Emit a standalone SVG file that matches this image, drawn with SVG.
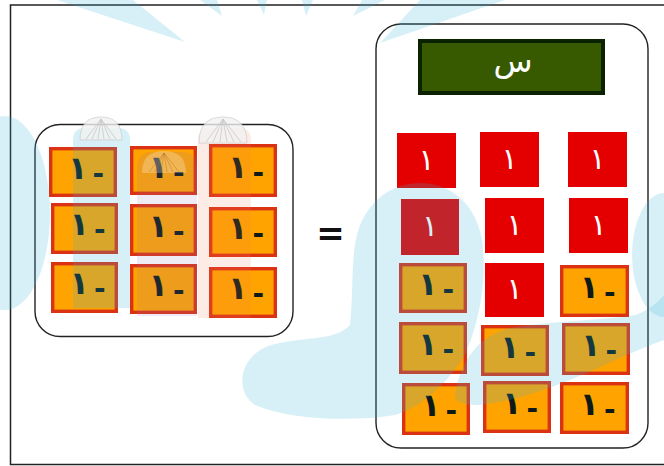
<svg xmlns="http://www.w3.org/2000/svg" width="664" height="466" viewBox="0 0 664 466">
<style>
.frame{fill:#fff;stroke:#222;stroke-width:1.5}
.box{fill:none;stroke:#222;stroke-width:1.4}
.t{fill:#FFA300;stroke:#DC3214;stroke-width:3.4}
.r{fill:#E40000}
.n{font-family:"DejaVu Sans",sans-serif;font-size:32px;font-weight:bold;fill:#0d1a18;text-anchor:middle;direction:rtl}
.m{font-size:28px}
.w{font-family:"DejaVu Sans",sans-serif;font-size:30px;fill:#fff;text-anchor:middle}
.wm{fill:#36B5D8;opacity:0.2}
.cap{fill:#f2f2f2;stroke:#c8c8c8;stroke-width:0.8;opacity:0.8}
</style>
<rect class="frame" x="10.5" y="5" width="660" height="459.5"/>

<g id="left-group">
<rect class="box" x="35" y="124.5" width="258" height="212" rx="25"/>
<g id="left-tiles">
<rect class="t" x="50.7" y="148.7" width="64.6" height="46.6"/><text class="n" x="86" y="179"><tspan class="m" baseline-shift="-4">-</tspan><tspan dx="-5">١</tspan></text>
<rect class="t" x="131.7" y="147.7" width="63.6" height="45.6"/><text class="n" x="166.5" y="178"><tspan class="m" baseline-shift="-4">-</tspan><tspan dx="-5">١</tspan></text>
<rect class="t" x="210.7" y="145.7" width="64.6" height="49.6"/><text class="n" x="246" y="178"><tspan class="m" baseline-shift="-4">-</tspan><tspan dx="-5">١</tspan></text>
<rect class="t" x="52.7" y="204.7" width="63.6" height="47.6"/><text class="n" x="87.5" y="235"><tspan class="m" baseline-shift="-4">-</tspan><tspan dx="-5">١</tspan></text>
<rect class="t" x="131.7" y="205.7" width="63.6" height="48.6"/><text class="n" x="166.5" y="237"><tspan class="m" baseline-shift="-4">-</tspan><tspan dx="-5">١</tspan></text>
<rect class="t" x="210.7" y="208.7" width="64.6" height="46.6"/><text class="n" x="246" y="239"><tspan class="m" baseline-shift="-4">-</tspan><tspan dx="-5">١</tspan></text>
<rect class="t" x="52.7" y="263.7" width="63.6" height="47.6"/><text class="n" x="87.5" y="294"><tspan class="m" baseline-shift="-4">-</tspan><tspan dx="-5">١</tspan></text>
<rect class="t" x="131.7" y="265.7" width="63.6" height="46.6"/><text class="n" x="166.5" y="296"><tspan class="m" baseline-shift="-4">-</tspan><tspan dx="-5">١</tspan></text>
<rect class="t" x="210.7" y="268.7" width="64.6" height="47.6"/><text class="n" x="246" y="299"><tspan class="m" baseline-shift="-4">-</tspan><tspan dx="-5">١</tspan></text>
</g>
<g id="bottles">
<path d="M73,140 Q73,128 85,128 L118,128 Q130,128 130,140 L130,308 L73,308 Z" fill="#36B5D8" opacity="0.2"/>
<path class="cap" d="M80,140 Q80,117 101,117 Q122,117 122,140 Z"/>
<path d="M101,119 L86,139 M101,119 L92,139 M101,119 L98,139 M101,119 L104,139 M101,119 L110,139 M101,119 L116,139" stroke="#c8c8c8" stroke-width="0.8" fill="none"/>
<path d="M137,170 Q137,152 152,152 L182,152 Q197,152 197,170 L197,316 L137,316 Z" fill="#8C78B4" opacity="0.15"/>
<path d="M142,173 Q142,151 164,151 Q186,151 186,173 Z" fill="#fff" opacity="0.25"/>
<path d="M164,153 L149,172 M164,153 L155,172 M164,153 L161,172 M164,153 L167,172 M164,153 L173,172 M164,153 L179,172" stroke="#b07020" stroke-width="0.8" fill="none" opacity="0.5"/>
<path d="M198,140 Q198,128 210,128 L239,128 Q251,128 251,140 L251,318 L198,318 Z" fill="#F08050" opacity="0.15"/>
<path class="cap" d="M199,143 Q199,117 223,117 Q247,117 247,143 Z"/>
<path d="M223,119 L206,142 M223,119 L213,142 M223,119 L220,142 M223,119 L227,142 M223,119 L234,142 M223,119 L241,142" stroke="#c8c8c8" stroke-width="0.8" fill="none"/>
</g>
</g>

<g id="equals"><text x="330.5" y="245" font-family="DejaVu Sans, sans-serif" font-size="34" font-weight="bold" text-anchor="middle" fill="#111">=</text></g>

<g id="right-group">
<rect class="box" x="376" y="24" width="272" height="424" rx="25"/>
<g id="result-x">
<rect x="420" y="41" width="183" height="52" fill="#375A00" stroke="#0B2200" stroke-width="4"/>
<text x="513" y="72" font-family="DejaVu Sans, sans-serif" font-size="32" fill="#fff" text-anchor="middle">س</text>
</g>
<g id="right-tiles">
<rect class="r" x="397" y="133" width="59" height="55"/><text class="w" x="426.5" y="170">١</text>
<rect class="r" x="480" y="132" width="59" height="55"/><text class="w" x="509.5" y="169">١</text>
<rect class="r" x="568" y="132" width="59" height="55"/><text class="w" x="597.5" y="169">١</text>
<rect class="r" x="401" y="199" width="58" height="56"/><text class="w" x="430" y="236">١</text>
<rect class="r" x="485" y="198" width="59" height="55"/><text class="w" x="514.5" y="235">١</text>
<rect class="r" x="569" y="198" width="59" height="55"/><text class="w" x="598.5" y="235">١</text>
<rect class="t" x="400.7" y="264.7" width="64.6" height="46.6"/><text class="n" x="436" y="295"><tspan class="m" baseline-shift="-4">-</tspan><tspan dx="-5">١</tspan></text>
<rect class="r" x="485" y="263" width="59" height="54"/><text class="w" x="514.5" y="299">١</text>
<rect class="t" x="561.7" y="266.7" width="65.6" height="48.6"/><text class="n" x="597.5" y="298"><tspan class="m" baseline-shift="-4">-</tspan><tspan dx="-5">١</tspan></text>
<rect class="t" x="400.7" y="323.7" width="64.6" height="48.6"/><text class="n" x="436" y="355"><tspan class="m" baseline-shift="-4">-</tspan><tspan dx="-5">١</tspan></text>
<rect class="t" x="482.7" y="326.7" width="64.6" height="47.6"/><text class="n" x="518" y="358"><tspan class="m" baseline-shift="-4">-</tspan><tspan dx="-5">١</tspan></text>
<rect class="t" x="563.7" y="324.7" width="64.6" height="48.6"/><text class="n" x="599" y="356"><tspan class="m" baseline-shift="-4">-</tspan><tspan dx="-5">١</tspan></text>
<rect class="t" x="403.7" y="384.7" width="64.6" height="48.6"/><text class="n" x="439" y="416"><tspan class="m" baseline-shift="-4">-</tspan><tspan dx="-5">١</tspan></text>
<rect class="t" x="484.7" y="382.7" width="64.6" height="48.6"/><text class="n" x="520" y="414"><tspan class="m" baseline-shift="-4">-</tspan><tspan dx="-5">١</tspan></text>
<rect class="t" x="561.7" y="383.7" width="65.6" height="48.6"/><text class="n" x="597.5" y="415"><tspan class="m" baseline-shift="-4">-</tspan><tspan dx="-5">١</tspan></text>
</g>
</g>

<g id="watermark">
<polygon class="wm" points="57,0 133,0 185,42"/>
<polygon class="wm" points="200,0 217,0 222,16"/>
<polygon class="wm" points="257,0 267,0 264,15"/>
<polygon class="wm" points="302,0 313,0 306,16"/>
<polygon class="wm" points="362,0 385,0 353,16"/>
<polygon class="wm" points="420,0 505,0 380,43"/>
<ellipse class="wm" cx="5" cy="213" rx="45" ry="97"/>
<ellipse class="wm" cx="664" cy="255" rx="32" ry="62"/>
<path class="wm" d="M420,183 C452,183 476,205 482,240 C488,280 478,330 462,360 C445,385 420,408 395,415 C350,422 290,420 255,405 C235,392 238,358 268,346 C300,336 335,342 350,325 C354,290 350,250 360,225 C372,197 395,183 420,183 Z"/>
<path class="wm" d="M455,395 C460,360 480,335 510,328 C560,320 610,320 635,315 C650,310 660,300 664,295 L664,340 C630,352 600,368 570,380 C540,392 510,402 480,405 C465,406 454,402 455,395 Z"/>
</g>
</svg>
